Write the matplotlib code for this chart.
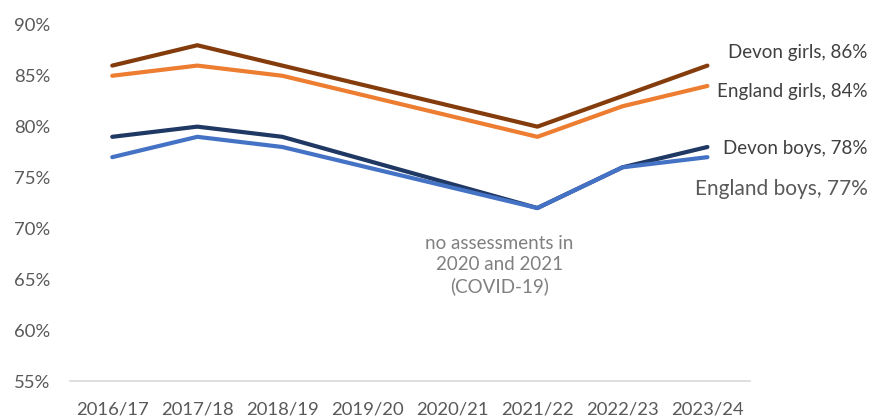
import numpy as np
import matplotlib.pyplot as plt

# Academic years and the series values (gap years 2019/20 and 2020/21 have no data)
years = ['2016/17', '2017/18', '2018/19', '2019/20', '2020/21', '2021/22', '2022/23', '2023/24']
data_idx = [0, 1, 2, 5, 6, 7]

devon_girls = [86, 88, 86, 80, 83, 86]
england_girls = [85, 86, 85, 79, 82, 84]
devon_boys = [79, 80, 79, 72, 76, 78]
england_boys = [77, 79, 78, 72, 76, 77]

series = [
    ('Devon girls, 86%', devon_girls, '#843C0C'),
    ('England girls, 84%', england_girls, '#ED7D31'),
    ('Devon boys, 78%', devon_boys, '#203864'),
    ('England boys, 77%', england_boys, '#4472C4'),
]

plt.rcParams['font.family'] = ['Lato', 'DejaVu Sans']

fig = plt.figure(figsize=(8.72, 4.17), dpi=100)
ax = fig.add_axes([0.080, 0.0863, 0.780, 0.854])

for name, vals, col in series:
    ax.plot(data_idx, vals, color=col, lw=3.0, solid_capstyle='round', solid_joinstyle='round')

ax.set_xlim(-0.5, len(years) - 0.5)
ax.set_ylim(55, 90)
ax.set_xticks(range(len(years)))
ax.set_xticklabels(years)
ax.set_yticks(np.arange(55, 91, 5))
ax.set_yticklabels([f'{v}%' for v in range(55, 91, 5)])
ax.tick_params(length=0, colors='#595959', labelsize=13.3)
ax.tick_params(axis='x', pad=15)
ax.tick_params(axis='y', pad=14)

for s in ['top', 'right', 'left']:
    ax.spines[s].set_visible(False)
ax.spines['bottom'].set_color('#D9D9D9')
ax.spines['bottom'].set_linewidth(1.2)

# end labels, placed in figure coords at given data heights
label_y = [87.3, 83.5, 77.9, 73.9]
label_size = [13.5, 13.5, 13.5, 15]
label_col = ['#404040', '#404040', '#404040', '#595959']
for (name, vals, col), ly, fs, tc in zip(series, label_y, label_size, label_col):
    fy = ax.transData.transform((0, ly))[1] / fig.bbox.height
    fig.text(0.995, fy, name, fontsize=fs, color=tc, ha='right', va='center')

ax.text(4.55, 66.4, 'no assessments in\n2020 and 2021\n(COVID-19)', ha='center', va='center',
        color='#808080', fontsize=13.5, linespacing=1.3)

plt.savefig('out.png', dpi=100)
